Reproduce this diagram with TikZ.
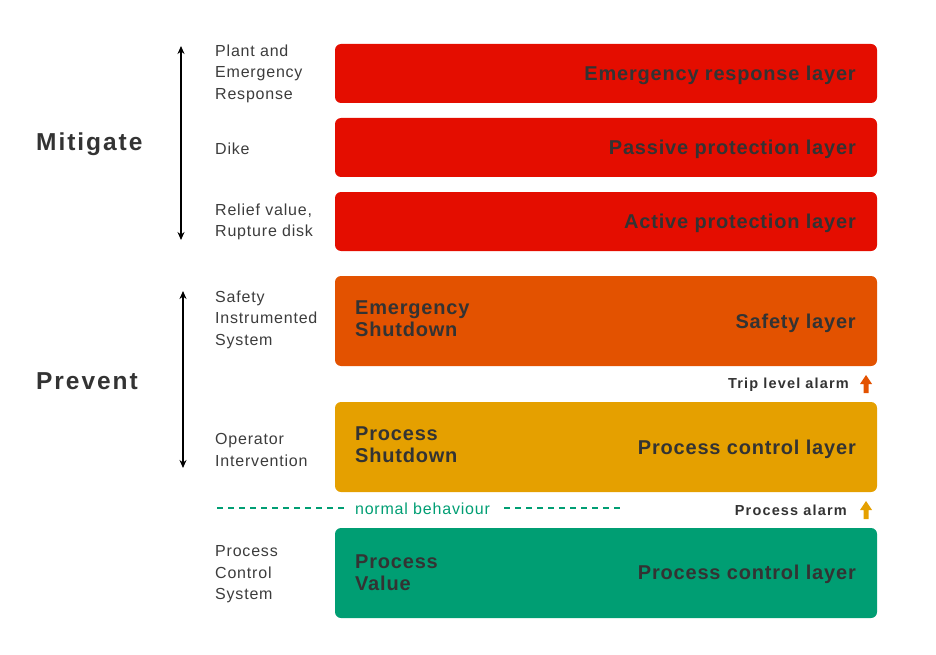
\documentclass[tikz,border=0pt]{standalone}
\usepackage{fontspec}
\setmainfont{Liberation Sans}
\newfontfamily\boldsp[LetterSpace=4]{Liberation Sans Bold}
\newfontfamily\boldwide[LetterSpace=8]{Liberation Sans Bold}
\newfontfamily\boldsmall[LetterSpace=8]{Liberation Sans Bold}
\newfontfamily\regsp[LetterSpace=5]{Liberation Sans}
\usetikzlibrary{arrows.meta}
\definecolor{layerred}{RGB}{228,13,0}
\definecolor{layerorange}{RGB}{227,82,0}
\definecolor{layeramber}{RGB}{229,160,0}
\definecolor{layergreen}{RGB}{0,158,115}
\definecolor{ink}{RGB}{51,51,51}
\definecolor{labelink}{RGB}{60,60,60}
\tikzset{
  layer/.style={fill=#1, draw=none, rounded corners=6pt},
  layertext/.style={text=ink, font=\boldsp\fontsize{20}{22}\selectfont, inner sep=0pt, align=left},
  sidelabel/.style={text=labelink, font=\regsp\fontsize{16}{21.5}\selectfont, inner sep=0pt, align=left, anchor=west},
  grouplabel/.style={text=ink, font=\boldwide\fontsize{24.5}{28}\selectfont, inner sep=0pt, anchor=west},
  alarmtext/.style={text=ink, font=\boldsmall\fontsize{14.5}{16}\selectfont, inner sep=0pt, anchor=east},
  span/.style={{Stealth[length=8pt,width=7pt]}-{Stealth[length=8pt,width=7pt]}, line width=1.4pt, black},
  normalline/.style={layergreen, line width=1.8pt, dash pattern=on 6pt off 5pt}
}
\newcommand{\uparrowicon}[3]{% x centre, y tip, colour
  \fill[#3] (#1,#2) -- (#1+6,#2+9) -- (#1+2.5,#2+9) -- (#1+2.5,#2+18) -- (#1-2.5,#2+18) -- (#1-2.5,#2+9) -- (#1-6,#2+9) -- cycle;}
\begin{document}
\begin{tikzpicture}[x=1pt,y=-1pt]
\useasboundingbox (0,0) rectangle (936,655);

% layer bars
\path[layer=layerred]    (335,44)  rectangle (877,103);
\path[layer=layerred]    (335,118) rectangle (877,177);
\path[layer=layerred]    (335,192) rectangle (877,251);
\path[layer=layerorange] (335,276) rectangle (877,366);
\path[layer=layeramber]  (335,402) rectangle (877,492);
\path[layer=layergreen]  (335,528) rectangle (877,618);

% right-hand layer names
\node[layertext, anchor=base east] (erl) at (856,80.5)  {Emergency response layer};
\node[layertext, anchor=base east] (ppl) at (856,154.5) {Passive protection layer};
\node[layertext, anchor=base east] (apl) at (856,228.5) {Active protection layer};
\node[layertext, anchor=base east] (sfl) at (856,328.5) {Safety layer};
\node[layertext, anchor=base east] (pcl) at (856,454.5) {Process control layer};
\node[layertext, anchor=base east] (pvl) at (856,579.5) {Process control layer};

% left-hand names inside bars
\node[layertext, anchor=west] (esd) at (355,319) {Emergency\\Shutdown};
\node[layertext, anchor=west] (psd) at (355,445) {Process\\Shutdown};
\node[layertext, anchor=west] (pval) at (355,573) {Process\\Value};

% side labels
\node[sidelabel] (plant) at (215,73.5) {Plant and\\Emergency\\Response};
\node[sidelabel] (dike) at (215,148.5) {Dike};
\node[sidelabel] (relief) at (215,222) {Relief value,\\Rupture disk};
\node[sidelabel] (sis) at (215,319.5) {Safety\\Instrumented\\System};
\node[sidelabel] (oper) at (215,450) {Operator\\Intervention};
\node[sidelabel] (pcs) at (215,574.5) {Process\\Control\\System};

% group labels
\node[grouplabel] (mitigate) at (36,144.5) {Mitigate};
\node[grouplabel] (prevent) at (36,381.5) {Prevent};

% spans
\coordinate (m-top) at (181,46);
\coordinate (m-bot) at (181,240);
\coordinate (p-top) at (183,291);
\coordinate (p-bot) at (183,468);
\draw[span] (m-top) -- (m-bot);
\draw[span] (p-top) -- (p-bot);

% alarms
\node[alarmtext] (trip) at (849,385) {Trip level alarm};
\uparrowicon{866}{375}{layerorange}
\node[alarmtext] (palarm) at (847,510.5) {Process alarm};
\uparrowicon{866}{501}{layeramber}

% normal behaviour boundary
\node[text=layergreen, font=\regsp\fontsize{16}{20}\selectfont, inner sep=0pt] (normal) at (422.5,508.5) {normal behaviour};
\coordinate (nl-a) at (217,508);
\coordinate (nl-b) at (345,508);
\coordinate (nl-c) at (504,508);
\coordinate (nl-d) at (621,508);
\draw[normalline] (nl-a) -- (nl-b);
\draw[normalline] (nl-c) -- (nl-d);
\end{tikzpicture}
\end{document}
